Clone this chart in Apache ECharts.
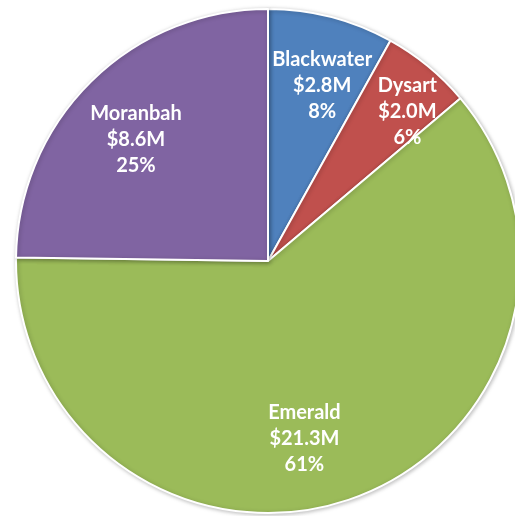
<!DOCTYPE html>
<html>
<head>
<meta charset="utf-8">
<script src="https://cdn.jsdelivr.net/npm/echarts@6/dist/echarts.min.js"></script>
<style>html,body{margin:0;padding:0;background:#fff}#c{width:515px;height:516px}</style>
</head>
<body>
<div id="c"></div>
<script>
const categories = ['Blackwater', 'Dysart', 'Emerald', 'Moranbah'];
const values = [2.8, 2.0, 21.3, 8.6];
const percents = ['8%', '6%', '61%', '25%'];
const colors = ['#4F81BD', '#C0504D', '#9BBB59', '#8064A2'];
// label nudges (Excel best-fit placement)
const labelOffsets = [[7, 7], [20, -4], [-27, 1], [0, 12]];

const chart = echarts.init(document.getElementById('c'), null, {renderer: 'canvas'});
const fillData = categories.map((n, i) => ({name: n, value: values[i], itemStyle: {color: colors[i]}}));
const labelData = categories.map((n, i) => ({name: n, value: values[i], label: {offset: labelOffsets[i]}}));
chart.setOption({
  animation: false,
  series: [
    {
      type: 'pie',
      center: [268, 261],
      radius: [0, 252],
      startAngle: 90,
      clockwise: true,
      data: fillData,
      label: {show: false},
      labelLine: {show: false},
      itemStyle: {borderColor: '#fff', borderWidth: 2, shadowBlur: 4, shadowColor: 'rgba(0,0,0,0.25)', shadowOffsetX: 1, shadowOffsetY: 1},
      emphasis: {disabled: true}
    },
    {
      type: 'pie',
      center: [268, 261],
      radius: [118, 252],
      startAngle: 90,
      clockwise: true,
      silent: true,
      data: labelData,
      itemStyle: {color: 'rgba(0,0,0,0)', borderWidth: 0},
      labelLine: {show: false},
      label: {
        show: true,
        position: 'inside',
        color: '#fff',
        fontFamily: 'Lato',
        fontWeight: 'bold',
        fontSize: 20,
        lineHeight: 26,
        align: 'center',
        formatter: p => p.name + '\n$' + p.value.toFixed(1) + 'M\n' + percents[p.dataIndex]
      },
      emphasis: {disabled: true}
    }
  ]
});
</script>
</body>
</html>
